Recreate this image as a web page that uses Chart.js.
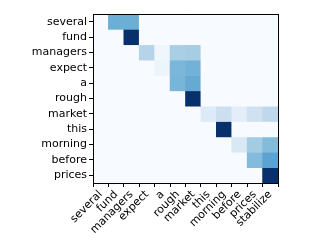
<!DOCTYPE html>
<html>
<head>
<meta charset="utf-8">
<script src="https://cdn.jsdelivr.net/npm/chart.js@4/dist/chart.umd.min.js"></script>
<style>
  html, body { margin: 0; padding: 0; background: #fff; }
  #wrap { width: 332px; height: 249px; }
</style>
</head>
<body>
<div id="wrap"><canvas id="attnChart" width="332" height="249"></canvas></div>
<script>
const xLabels = ['several', 'fund', 'managers', 'expect', 'a', 'rough', 'market', 'this', 'morning', 'before', 'prices', 'stabilize'];
const yLabels = ['several', 'fund', 'managers', 'expect', 'a', 'rough', 'market', 'this', 'morning', 'before', 'prices'];

// attention weights, one row per source word (0..1)
const rowSeveral  = [0, 0.50, 0.50, 0, 0, 0, 0, 0, 0, 0, 0, 0];
const rowFund     = [0, 0, 1.00, 0, 0, 0, 0, 0, 0, 0, 0, 0];
const rowManagers = [0, 0, 0, 0.30, 0.04, 0.34, 0.35, 0, 0, 0, 0, 0];
const rowExpect   = [0, 0, 0, 0, 0.05, 0.46, 0.48, 0, 0, 0, 0, 0];
const rowA        = [0, 0, 0, 0, 0, 0.47, 0.52, 0, 0, 0, 0, 0];
const rowRough    = [0, 0, 0, 0, 0, 0, 1.00, 0, 0, 0, 0, 0];
const rowMarket   = [0, 0, 0, 0, 0, 0, 0, 0.13, 0.22, 0.10, 0.20, 0.27];
const rowThis     = [0, 0, 0, 0, 0, 0, 0, 0, 1.00, 0, 0, 0];
const rowMorning  = [0, 0, 0, 0, 0, 0, 0, 0, 0, 0.15, 0.36, 0.44];
const rowBefore   = [0, 0, 0, 0, 0, 0, 0, 0, 0, 0, 0.44, 0.55];
const rowPrices   = [0, 0, 0, 0, 0, 0, 0, 0, 0, 0, 0, 1.00];

const weights = [rowSeveral, rowFund, rowManagers, rowExpect, rowA, rowRough,
                 rowMarket, rowThis, rowMorning, rowBefore, rowPrices];

// matplotlib "Blues"
const blues = ['#f7fbff', '#deebf7', '#c6dbef', '#9ecae1', '#6baed6', '#4292c6', '#2171b5', '#08519c', '#08306b'];

function hexToRgb(h) {
    return [parseInt(h.slice(1, 3), 16), parseInt(h.slice(3, 5), 16), parseInt(h.slice(5, 7), 16)];
}

function bluesColor(v) {
    v = Math.max(0, Math.min(1, v));
    const pos = v * (blues.length - 1);
    const i = Math.min(Math.floor(pos), blues.length - 2);
    const t = pos - i;
    const a = hexToRgb(blues[i]);
    const b = hexToRgb(blues[i + 1]);
    const c = a.map((x, k) => Math.round(x + (b[k] - x) * t));
    return `rgb(${c[0]},${c[1]},${c[2]})`;
}

const datasets = weights.map((row, r) => ({
    label: yLabels[r],
    data: row.map(() => [r - 0.5, r + 0.5]),
    backgroundColor: row.map(v => bluesColor(v)),
    borderWidth: 0,
    borderSkipped: false,
    barPercentage: 1,
    categoryPercentage: 1,
    grouped: false
}));

// box around the whole plot like matplotlib's spines
const frame = {
    id: 'frame',
    afterDraw(chart) {
        const { ctx, chartArea } = chart;
        ctx.save();
        ctx.strokeStyle = '#000';
        ctx.lineWidth = 1;
        ctx.strokeRect(Math.round(chartArea.left) + 0.5, Math.round(chartArea.top) + 0.5,
            Math.round(chartArea.right - chartArea.left), Math.round(chartArea.bottom - chartArea.top));
        ctx.restore();
    }
};

const font = { family: 'DejaVu Sans', size: 11 };

new Chart(document.getElementById('attnChart').getContext('2d'), {
    type: 'bar',
    data: { labels: xLabels, datasets: datasets },
    plugins: [frame],
    options: {
        responsive: false,
        animation: false,
        layout: { padding: { top: 14, right: 54, left: 0, bottom: 0 } },
        plugins: {
            legend: { display: false },
            tooltip: { enabled: false }
        },
        scales: {
            x: {
                type: 'category',
                offset: true,
                afterFit(scale) { scale.height = 66; },
                grid: { display: true, drawOnChartArea: false, drawTicks: true, tickLength: 4, color: '#000' },
                border: { display: true, color: '#000', width: 1 },
                ticks: { color: '#000', font: font, maxRotation: 45, minRotation: 45, autoSkip: false, padding: 1 }
            },
            y: {
                type: 'linear',
                reverse: true,
                min: -0.5,
                max: 10.5,
                afterFit(scale) { scale.width = 93; },
                afterBuildTicks(scale) { scale.ticks = yLabels.map((_, i) => ({ value: i })); },
                grid: { display: true, drawOnChartArea: false, drawTicks: true, tickLength: 4, color: '#000' },
                border: { display: true, color: '#000', width: 1 },
                ticks: {
                    color: '#000', font: font, padding: 2, autoSkip: false,
                    callback: (v) => yLabels[v] || ''
                }
            }
        }
    }
});
</script>
</body>
</html>
